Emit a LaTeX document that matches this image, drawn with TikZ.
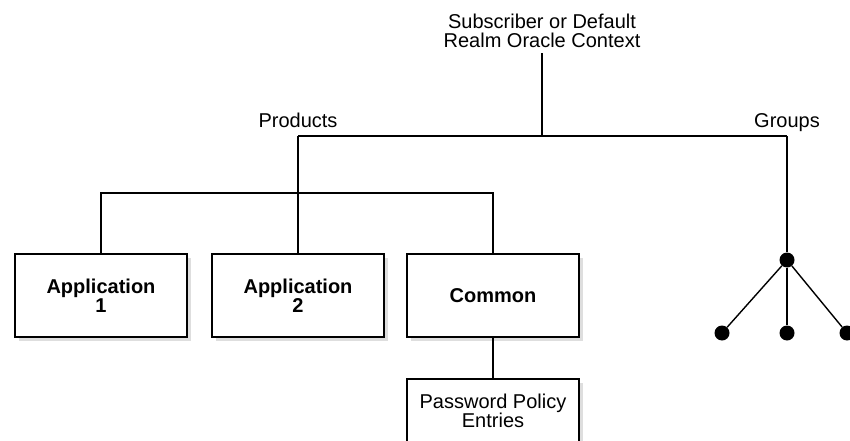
\documentclass[tikz,border=0pt]{standalone}
\usepackage{fontspec}
\setmainfont{Liberation Sans}
\usetikzlibrary{shadows}

\begin{document}
\begin{tikzpicture}[x=1pt, y=-1pt,
    every node/.style={font=\fontsize{20}{19}\selectfont, align=center},
    conn/.style={line width=1.4pt},
    entrybox/.style={draw, line width=2pt, fill=white, minimum width=172pt,
      minimum height=83pt, inner sep=0pt,
      drop shadow={shadow xshift=4pt, shadow yshift=-4pt, fill=black!13, opacity=1}},
    dot/.style={circle, fill=black, minimum size=15pt, inner sep=0pt}]

  \useasboundingbox (0,0) rectangle (850,441);
  \clip (0,0) rectangle (850,441);

  %% top of the tree
  \node[inner sep=0pt] (ctx) at (542,31) {Subscriber or Default\\Realm Oracle Context};
  \coordinate (root) at (542,136);
  \coordinate (prodtop) at (298,136);
  \coordinate (grptop) at (787,136);
  \node[anchor=base, inner sep=0pt] (prodlbl) at (298,127) {Products};
  \node[anchor=base, inner sep=0pt] (grplbl) at (787,127) {Groups};

  %% product entries
  \node[entrybox, font=\fontsize{20}{19}\selectfont\bfseries] (app1) at (101,295.5) {Application\\1};
  \node[entrybox, font=\fontsize{20}{19}\selectfont\bfseries] (app2) at (298,295.5) {Application\\2};
  \node[entrybox, font=\fontsize{20}{19}\selectfont\bfseries] (common) at (493,295.5) {Common};
  \node[entrybox, minimum height=64pt] (pwd) at (493,411) {Password Policy\\Entries};
  \coordinate (split) at (298,193);

  %% group entries
  \node[dot] (g0) at (787,260) {};
  \node[dot] (g1) at (722,333) {};
  \node[dot] (g2) at (787,333) {};
  \node[dot] (g3) at (847,333) {};

  \draw[conn] (ctx.south) ++(0,5) -- (root);
  \draw[conn] (prodtop) -- (grptop);
  \draw[conn] (prodtop) -- (app2.north);
  \draw[conn] (app1.north) |- (split) -| (common.north);
  \draw[conn] (common.south) -- (pwd.north);

  \draw[conn] (grptop) -- (g0);
  \draw[conn] (g0) -- (g1);
  \draw[conn] (g0) -- (g2);
  \draw[conn] (g0) -- (g3);

\end{tikzpicture}
\end{document}
